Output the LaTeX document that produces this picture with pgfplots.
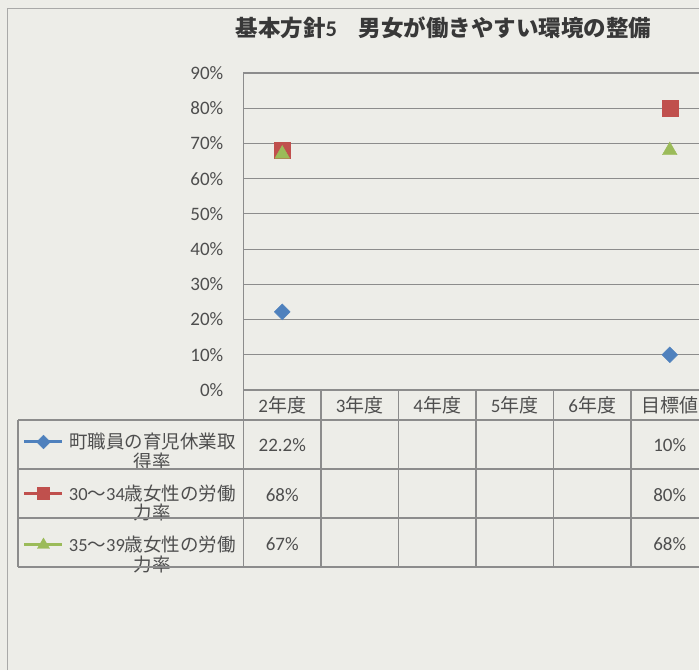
\documentclass[border=0pt]{standalone}
\usepackage{fontspec}
\usepackage{pgfplots}
\pgfplotsset{compat=1.18}
\setmainfont{Carlito}
\newfontfamily\cjk{Noto Sans CJK JP}
\newcommand\J[1]{{\cjk #1}}
\definecolor{bg}{RGB}{237,237,232}
\definecolor{txt}{RGB}{78,78,78}
\definecolor{gridc}{RGB}{140,140,140}
\definecolor{s1}{RGB}{79,129,189}
\definecolor{s2}{RGB}{192,80,77}
\definecolor{s3}{RGB}{155,187,89}
\begin{document}
\begin{tikzpicture}[x=1pt,y=1pt]
\fill[bg] (0,0) rectangle (699,670);
\useasboundingbox (0,0) rectangle (699,670);
% outer frame
\draw[gridc!70!bg, line width=1pt] (7,0) -- (7,661) -- (699,661);
% title
\node[text=black!78, font=\fontsize{22.5}{26}\selectfont\bfseries] at (443.5,642)
  {\J{基本方針}5\hspace{22pt}\J{男女が働きやすい環境の整備}};
\begin{axis}[
  at={(243.5pt,280pt)}, anchor=south west,
  width=455.5pt, height=317pt, scale only axis,
  xmin=-0.5, xmax=5.377, ymin=0, ymax=90,
  axis x line=none, axis y line*=left,
  axis line style={gridc, line width=1.2pt},
  major tick length=0pt,
  ytick={0,10,20,30,40,50,60,70,80,90},
  yticklabels={0\%,10\%,20\%,30\%,40\%,50\%,60\%,70\%,80\%,90\%},
  yticklabel style={anchor=east, inner sep=0pt, xshift=-20pt, text=txt,
    font=\fontsize{19}{19}\selectfont},
  ymajorgrids, major grid style={gridc, line width=1.2pt},
  clip=false,
  legend style={at={(axis description cs:-0.4808,-0.1845)}, anchor=north west,
    draw=none, fill=none, inner sep=0pt, outer sep=0pt,
    /tikz/row sep=50.5pt, /tikz/column sep=5pt,
    nodes={inner sep=0pt, outer sep=0pt, text height=0pt, text depth=0pt,
      text=txt, font=\fontsize{18.5}{19.5}\selectfont}},
]
\addplot[only marks, mark=square*, mark size=5.6pt,
  mark options={rotate=45, fill=s1, draw=s1},
  legend image code/.code={%
    \draw[overlay, s1, line width=3pt] (0pt,7pt) -- (38pt,7pt);
    \draw[overlay, s1, only marks, mark=square*, mark size=4.8pt, mark options={rotate=45}] plot coordinates {(19pt,7pt)};
    \path[draw=none, fill=none] (0pt,0pt) rectangle (38pt,0pt);}]
  coordinates {(0,22.2) (5,10)};
\addlegendentry{\parbox[t]{170pt}{\centering\J{町職員の育児休業取}\\\J{得率}}}
\addplot[only marks, mark=square*, mark size=8pt,
  mark options={fill=s2, draw=s2},
  legend image code/.code={%
    \draw[overlay, s2, line width=3pt] (0pt,7pt) -- (38pt,7pt);
    \draw[overlay, s2, only marks, mark=square*, mark size=6pt] plot coordinates {(19pt,7pt)};
    \path[draw=none, fill=none] (0pt,0pt) rectangle (38pt,0pt);}]
  coordinates {(0,68) (5,80)};
\addlegendentry{\parbox[t]{170pt}{\centering 30\J{～}34\J{歳女性の労働}\\\J{力率}}}
\addplot[only marks, mark=triangle*, mark size=8.5pt,
  mark options={fill=s3, draw=s3},
  legend image code/.code={%
    \draw[overlay, s3, line width=3pt] (0pt,7pt) -- (38pt,7pt);
    \draw[overlay, s3, only marks, mark=triangle*, mark size=7pt] plot coordinates {(19pt,7pt)};
    \path[draw=none, fill=none] (0pt,0pt) rectangle (38pt,0pt);}]
  coordinates {(0,67) (5,68)};
\addlegendentry{\parbox[t]{170pt}{\centering 35\J{～}39\J{歳女性の労働}\\\J{力率}}}
\end{axis}
% data table grid
\begin{scope}[gridc, line width=1.1pt]
\draw (243.5,280) -- (699,280);
\foreach \yy in {250,201,152,103} {\draw (18,\yy) -- (699,\yy);}
\draw (18,250) -- (18,103);
\foreach \xx in {243.5,321,398.5,476,553.5,631} {\draw (\xx,280) -- (\xx,103);}
\end{scope}
% header
\begin{scope}[every node/.style={text=txt, font=\fontsize{19}{19}\selectfont}]
\node at (282.25,265) {2\J{年度}};
\node at (359.75,265) {3\J{年度}};
\node at (437.25,265) {4\J{年度}};
\node at (514.75,265) {5\J{年度}};
\node at (592.25,265) {6\J{年度}};
\node at (669.75,265) {\J{目標値}};
\node at (282.25,225) {22.2\%};
\node at (282.25,175) {68\%};
\node at (282.25,126) {67\%};
\node at (669.75,225) {10\%};
\node at (669.75,175) {80\%};
\node at (669.75,126) {68\%};
\end{scope}
\end{tikzpicture}
\end{document}
